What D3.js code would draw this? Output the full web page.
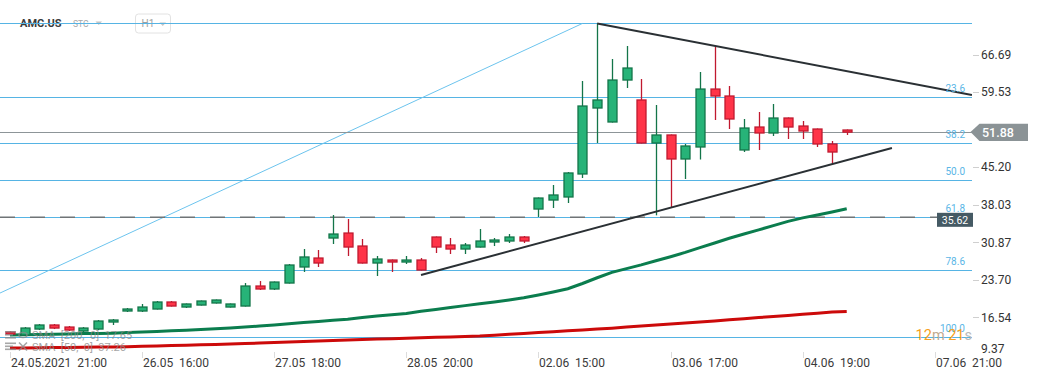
<!DOCTYPE html>
<html>
<head>
<meta charset="utf-8">
<script src="https://cdn.jsdelivr.net/npm/d3@7"></script>
<style>
  body { margin: 0; background: #fff; }
  svg { display: block; font-family: Roboto, "Noto Sans", sans-serif; }
</style>
</head>
<body>
<div id="chart"></div>
<script>
// candles (one per bar index)
const open  = [13.73,13.16,14.30,15.07,14.68,13.92,14.30,15.64,17.74,17.74,18.12,19.46,18.50,18.88,19.27,18.50,18.69,22.51,21.94,23.08,26.14,27.85,31.67,32.62,30.14,26.90,27.47,27.09,27.47,31.86,30.33,29.57,29.95,30.91,31.10,31.86,37.20,38.92,39.50,43.89,56.48,53.81,61.82,58.01,49.80,51.33,46.75,49.04,60.10,58.77,48.47,52.85,51.71,54.57,53.04,52.47,49.61,52.28];
const high  = [13.92,14.68,15.26,15.26,14.88,14.68,16.02,16.21,18.31,19.08,19.65,19.65,19.17,19.74,19.93,19.17,23.08,23.46,23.37,26.71,29.57,29.38,36.06,35.30,31.48,28.24,27.57,28.24,27.85,31.96,31.67,30.72,33.39,31.67,32.43,32.05,39.40,41.79,44.27,61.63,72.62,65.83,68.31,62.01,57.05,51.42,49.61,63.35,68.12,60.68,54.38,55.72,57.24,54.67,54.00,52.57,50.18,52.38];
const low   = [13.16,12.97,14.11,14.30,13.92,13.73,14.11,15.07,17.55,17.55,18.03,18.60,18.31,18.79,19.17,18.41,18.60,21.75,21.75,22.99,25.18,26.14,30.53,28.24,26.80,24.42,25.18,26.71,25.47,28.81,28.62,28.62,29.86,30.14,30.72,30.72,35.68,37.40,38.35,43.12,49.80,53.71,60.30,49.71,36.00,37.59,42.93,46.65,54.19,52.47,48.08,48.47,51.14,50.56,50.56,49.04,45.98,51.33];
const close = [13.35,14.49,15.07,14.49,14.11,14.49,15.83,16.02,18.12,18.50,19.46,18.69,19.08,19.65,19.84,19.08,22.51,21.94,23.27,26.52,28.05,26.90,32.43,29.95,26.90,27.66,27.09,27.47,25.56,29.95,29.57,30.33,31.10,31.29,31.86,31.10,39.30,39.88,44.08,56.86,58.01,61.82,64.11,49.80,51.33,46.75,49.23,60.10,58.77,54.38,52.66,51.71,54.57,52.85,52.09,49.61,48.08,51.88];

// moving averages
const sma50  = [13.16,13.22,13.26,13.31,13.37,13.43,13.47,13.52,13.62,13.73,13.85,13.96,14.09,14.21,14.34,14.48,14.67,14.88,15.09,15.32,15.53,15.74,15.96,16.17,16.48,16.79,17.03,17.28,17.70,18.05,18.41,18.77,19.13,19.48,19.84,20.26,20.79,21.37,22.00,22.99,24.09,25.12,25.83,26.54,27.32,28.10,28.92,29.84,30.72,31.63,32.43,33.22,34.04,34.84,35.51,36.06,36.63,37.26];
const sma200 = [10.68,10.70,10.74,10.76,10.77,10.81,10.85,10.87,10.93,11.00,11.08,11.16,11.21,11.29,11.36,11.44,11.54,11.63,11.73,11.82,11.92,12.01,12.11,12.20,12.30,12.40,12.47,12.55,12.62,12.72,12.80,12.89,12.97,13.12,13.29,13.46,13.64,13.79,13.96,14.13,14.30,14.46,14.67,14.86,15.05,15.24,15.43,15.64,15.85,16.06,16.27,16.48,16.69,16.90,17.11,17.32,17.53,17.65];

// axes
const xTickIndex  = [0, 9, 18, 27, 36, 45, 54, 63];
const xTickLabels = ["24.05.2021  21:00", "26.05  16:00", "27.05  18:00", "28.05  20:00", "02.06  15:00", "03.06  17:00", "04.06  19:00", "07.06  21:00"];
const yTicks = [66.69, 59.53, 45.20, 38.03, 30.87, 23.70, 16.54, 9.37];

// drawings
const fibHigh = 72.62, fibLow = 12.78;
const fibLevels = [0, 23.6, 38.2, 50, 61.8, 78.6, 100];
const fibTrend = [[-7.15, 12.78], [39, 72.62]];
const triangleTop = [[40, 72.62], [65.53, 58.96]];
const triangleBottom = [[28, 24.61], [60.08, 48.85]];
const lastPrice = 51.88;
const alertPrice = 35.62;

const width = 1041, height = 380;
const plotRight = 972, plotBottom = 352;

const x = d3.scaleLinear().domain([0, 63]).range([10, 934.8]);
const y = d3.scaleLinear().domain([16.54, 66.69]).range([317.3, 54.5]);

const svg = d3.select("#chart").append("svg")
  .attr("width", width).attr("height", height);

svg.append("defs").append("clipPath").attr("id", "plot")
  .append("rect").attr("x", 0).attr("y", 0).attr("width", plotRight).attr("height", plotBottom);

const plot = svg.append("g").attr("clip-path", "url(#plot)");

// fib retracement lines
const fibColor = "#56b4e4";
const fibPrice = (lvl) => fibHigh - (fibHigh - fibLow) * lvl / 100;
plot.append("g").selectAll("line").data(fibLevels).join("line")
  .attr("x1", 0).attr("x2", plotRight)
  .attr("y1", (d) => Math.round(y(fibPrice(d))) + 0.5)
  .attr("y2", (d) => Math.round(y(fibPrice(d))) + 0.5)
  .attr("stroke", fibColor).attr("stroke-width", 1);

plot.append("line")
  .attr("x1", x(fibTrend[0][0])).attr("y1", y(fibTrend[0][1]))
  .attr("x2", x(fibTrend[1][0])).attr("y2", y(fibTrend[1][1]))
  .attr("stroke", "#6cc4ee").attr("stroke-width", 1);

// alert dashed line
plot.append("line")
  .attr("x1", 0).attr("x2", plotRight)
  .attr("y1", y(alertPrice)).attr("y2", y(alertPrice))
  .attr("stroke", "#6f7477").attr("stroke-width", 1.5)
  .attr("stroke-dasharray", "15,15");

// last price line
plot.append("line")
  .attr("x1", 0).attr("x2", plotRight)
  .attr("y1", Math.round(y(lastPrice)) + 0.5).attr("y2", Math.round(y(lastPrice)) + 0.5)
  .attr("stroke", "#8d9598").attr("stroke-width", 1);

// SMA lines
const smaLine = d3.line().x((d, i) => x(i)).y((d) => y(d));
plot.append("path").attr("d", smaLine(sma200))
  .attr("fill", "none").attr("stroke", "#cc0a0a").attr("stroke-width", 3);
plot.append("path").attr("d", smaLine(sma50))
  .attr("fill", "none").attr("stroke", "#0b7d4e").attr("stroke-width", 3);

// legend
const legend = svg.append("g").attr("fill", "#8a8a8a").attr("opacity", 0.75);
[["SMA  [200,  0]  17.65", 335], ["SMA  [50,  0]  37.26", 346.5]].forEach(([t, cy], k) => {
  [0, 3, 6].forEach((o) => legend.append("rect")
    .attr("x", 5).attr("y", cy - 4 + o).attr("width", o === 3 ? 8 : 11).attr("height", 1.6));
  if (k === 0) {
    legend.append("ellipse").attr("cx", 23).attr("cy", cy).attr("rx", 4).attr("ry", 2.6)
      .attr("fill", "none").attr("stroke", "#8a8a8a").attr("stroke-width", 1.4);
  } else {
    legend.append("path").attr("d", `M19,${cy - 4}L27,${cy + 4}M27,${cy - 4}L19,${cy + 4}`)
      .attr("stroke", "#8a8a8a").attr("stroke-width", 1.6);
  }
  legend.append("text").attr("x", 32).attr("y", cy + 4)
    .attr("font-size", 11).style("white-space", "pre").text(t);
});

// candles
const idx = d3.range(open.length);
const up = (i) => close[i] >= open[i];
const candles = plot.append("g").selectAll("g").data(idx).join("g");
candles.append("line")
  .attr("x1", (i) => Math.round(x(i)) + 0.5).attr("x2", (i) => Math.round(x(i)) + 0.5)
  .attr("y1", (i) => y(high[i])).attr("y2", (i) => y(low[i]))
  .attr("stroke", (i) => up(i) ? "#137549" : "#c0192f").attr("stroke-width", 1.3);
candles.append("rect")
  .attr("x", (i) => Math.round(x(i)) - 4)
  .attr("y", (i) => y(Math.max(open[i], close[i])))
  .attr("width", 9)
  .attr("height", (i) => Math.max(1.5, Math.abs(y(open[i]) - y(close[i]))))
  .attr("fill", (i) => up(i) ? "#27b378" : "#ff3448")
  .attr("stroke", (i) => up(i) ? "#137549" : "#c0192f").attr("stroke-width", 1.3);

// triangle lines
[triangleTop, triangleBottom].forEach((seg) => {
  plot.append("line")
    .attr("x1", x(seg[0][0])).attr("y1", y(seg[0][1]))
    .attr("x2", x(seg[1][0])).attr("y2", y(seg[1][1]))
    .attr("stroke", "#2a3034").attr("stroke-width", 2);
});

// fib labels
svg.append("g").selectAll("text").data(fibLevels.filter((d) => d > 0)).join("text")
  .attr("x", 965).attr("y", (d) => y(fibPrice(d)) - 5)
  .attr("text-anchor", "end").attr("font-size", 10).attr("fill", "#5ab6e6")
  .text((d) => d.toFixed(1));

// countdown
const cd = svg.append("text").attr("x", 972).attr("y", 340).attr("text-anchor", "end")
  .attr("font-size", 14.5);
cd.append("tspan").attr("fill", "#f6a020").text("12");
cd.append("tspan").attr("fill", "#c2aa90").text("m ");
cd.append("tspan").attr("fill", "#f6a020").text("21");
cd.append("tspan").attr("fill", "#b9b9b9").text("s");

// right axis
const yAxis = svg.append("g");
yTicks.forEach((v) => {
  const py = Math.min(y(v), 349);
  if (py === y(v)) {
    yAxis.append("line").attr("x1", 973).attr("x2", 979)
      .attr("y1", Math.round(py) + 0.5).attr("y2", Math.round(py) + 0.5)
      .attr("stroke", "#cfcfcf");
  }
  yAxis.append("text").attr("x", 981).attr("y", py).attr("dy", "0.36em")
    .attr("font-size", 12).attr("fill", "#333").text(v.toFixed(2));
});

// last price tag
const ly = y(lastPrice);
svg.append("path")
  .attr("d", `M970.5,${ly}L979.5,${ly - 8.3}L1028,${ly - 8.3}L1028,${ly + 8.8}L979.5,${ly + 8.8}Z`)
  .attr("fill", "#8b9396");
svg.append("text").attr("x", 982).attr("y", ly).attr("dy", "0.38em")
  .attr("font-size", 12.5).attr("font-weight", 500).attr("fill", "#fff").text(lastPrice.toFixed(2));

// alert tag
const ay = y(alertPrice);
svg.append("rect").attr("x", 937).attr("y", ay - 4.5).attr("width", 36).attr("height", 14)
  .attr("fill", "#455a64");
svg.append("text").attr("x", 955).attr("y", ay + 2.5).attr("dy", "0.36em")
  .attr("text-anchor", "middle").attr("font-size", 10.5).attr("fill", "#fff").text(alertPrice.toFixed(2));

// x axis
const xAxis = svg.append("g");
xTickIndex.forEach((t, k) => {
  const px = Math.round(x(t)) + 0.5;
  xAxis.append("line").attr("x1", px).attr("x2", px).attr("y1", 352).attr("y2", 358)
    .attr("stroke", "#dcdcdc");
  xAxis.append("text").attr("x", px + 0.5).attr("y", 366.5)
    .attr("font-size", 12).attr("fill", "#3a3a3a").style("white-space", "pre")
    .text(xTickLabels[k]);
});

// header
const header = svg.append("g");
header.append("text").attr("x", 20).attr("y", 27.3).attr("font-size", 11).attr("font-weight", 700)
  .attr("fill", "#3b3b3b").text("AMC.US");
header.append("text").attr("x", 73).attr("y", 27).attr("font-size", 8.5)
  .attr("fill", "#a8a8a8").text("STC");
header.append("path").attr("d", "M95.5,21.5L102,21.5L98.75,25Z").attr("fill", "#c4c4c4");
header.append("rect").attr("x", 135.5).attr("y", 14).attr("width", 35).attr("height", 19).attr("rx", 3)
  .attr("fill", "#fff").attr("stroke", "#e2e2e2");
header.append("text").attr("x", 141.5).attr("y", 27).attr("font-size", 10)
  .attr("fill", "#a0a0a0").text("H1");
header.append("path").attr("d", "M159.5,22.5L166,22.5L162.75,26Z").attr("fill", "#c4c4c4");
// the 0% fib line crosses over the header
svg.append("line").attr("x1", 0).attr("x2", 180)
  .attr("y1", Math.round(y(fibHigh)) + 0.5).attr("y2", Math.round(y(fibHigh)) + 0.5)
  .attr("stroke", fibColor).attr("stroke-width", 1);
</script>
</body>
</html>
